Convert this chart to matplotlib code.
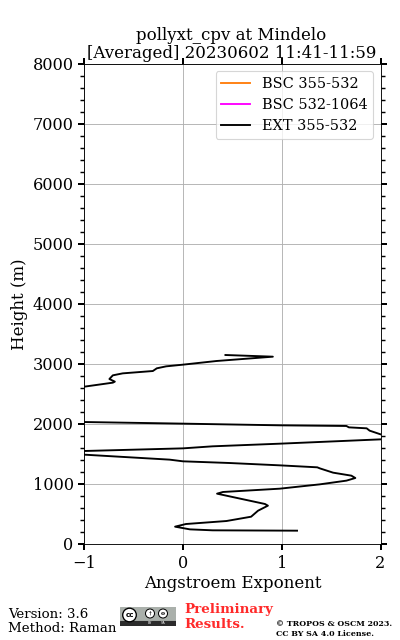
import numpy as np
from matplotlib import pyplot as plt
from matplotlib.patches import Rectangle, Circle

plt.rcParams['font.family'] = 'DejaVu Serif'

## Angstroem exponent profile
height = [222, 228, 244, 289, 333, 383, 455, 555, 639, 667, 839, 867, 922, 994,
          1056, 1100, 1139, 1189, 1261, 1278, 1311, 1350, 1378, 1406, 1489, 1510,
          1530, 1550, 1594, 1628, 1672, 1744, 1770, 1800, 1828, 1867, 1889, 1928,
          1944, 1967, 1978, 2006, 2033, 2060, 2590, 2622, 2689, 2706, 2750, 2811,
          2844, 2883, 2928, 2961, 2989, 3050, 3122, 3150]
ext_355_532 = [1.155, 0.30, 0.07, -0.08, 0.03, 0.44, 0.69, 0.76, 0.86, 0.83, 0.345,
               0.405, 0.98, 1.385, 1.655, 1.745, 1.705, 1.52, 1.385, 1.36, 0.98, 0.47,
               0, -0.135, -1, -1.2, -1.2, -1, 0, 0.30, 0.98, 2, 2.2, 2.2, 2, 1.93,
               1.89, 1.86, 1.68, 1.655, 0.98, 0, -1, -1.2, -1.2, -1, -0.71, -0.69,
               -0.745, -0.71, -0.61, -0.305, -0.265, -0.17, 0, 0.34, 0.91, 0.43]
bsc_355_532 = []
bsc_532_1064 = []
x_ticks = [-1, 0, 1, 2]
y_ticks = [0, 1000, 2000, 3000, 4000, 5000, 6000, 7000, 8000]

fig = plt.figure(figsize=(5, 8), dpi=80)
ax = fig.add_axes([84.2/400, 1-544/640, (380.5-84.2)/400, 480/640])

ax.plot(bsc_355_532, bsc_355_532, color='#ff7f0e', lw=1.7, label='BSC 355-532')
ax.plot(bsc_532_1064, bsc_532_1064, color='magenta', lw=1.7, label='BSC 532-1064')
ax.plot(ext_355_532, height, color='k', lw=1.7, label='EXT 355-532')

ax.set_xlim(-1, 2)
ax.set_ylim(0, 8000)
ax.set_xticks(x_ticks)
ax.set_yticks(y_ticks)
ax.set_yticks(np.arange(0, 8001, 200), minor=True)
ax.grid(True, which='major')
ax.tick_params(axis='both', which='major', labelsize=14.5, width=1.8, length=5.5,
               pad=4, top=True, right=True)
ax.tick_params(axis='y', which='minor', width=1.3, length=3.5, left=True, right=True)
ax.set_xlabel('Angstroem Exponent', fontsize=15, labelpad=3)
ax.set_ylabel('Height (m)', fontsize=15, labelpad=4)
ax.set_title('pollyxt_cpv at Mindelo\n[Averaged] 20230602 11:41-11:59', fontsize=15,
             linespacing=1.12, pad=5, x=0.497)
ax.legend(loc='upper right', fontsize=13)

fig.text(8/400, 1-622/640, 'Version: 3.6\nMethod: Raman', fontsize=12, va='center',
         linespacing=1.1)
fig.text(184/400, 1-617/640, 'Preliminary\nResults.', fontsize=12, color='#ff2a2a',
         fontweight='bold', va='center', linespacing=1.15)
fig.text(276/400, 1-629/640, '© TROPOS & OSCM 2023.\nCC BY SA 4.0 License.', fontsize=7.1,
         fontweight='bold', va='center', linespacing=1.2)

## CC badge
logo = fig.add_axes([120/400, 1-626/640, 56/400, 19/640])
logo.set_xlim(0, 56)
logo.set_ylim(19, 0)
logo.axis('off')
logo.add_patch(Rectangle((0, 0), 56, 19, color='#aab0ab'))
logo.add_patch(Rectangle((0, 13.5), 56, 5.5, color='#2b2b2b'))
logo.add_patch(Circle((9.5, 8), 6.8, fc='white', ec='k', lw=1.2))
logo.add_patch(Circle((30, 6.5), 4.5, fc='white', ec='k', lw=0.9))
logo.add_patch(Circle((43, 6.5), 4.5, fc='white', ec='k', lw=0.9))
logo.text(9.5, 8, 'cc', fontsize=6.5, fontweight='bold', ha='center', va='center',
          family='DejaVu Sans')
logo.text(30, 6.5, '$\\dagger$', fontsize=5, ha='center', va='center')
logo.text(43, 6.5, 'o', fontsize=5.5, fontweight='bold', ha='center', va='center')
logo.text(30, 16.3, 'BY', fontsize=3, color='white', ha='center', va='center', family='DejaVu Sans')
logo.text(43, 16.3, 'SA', fontsize=3, color='white', ha='center', va='center', family='DejaVu Sans')

plt.savefig('out.png', dpi=80)
plt.close()
